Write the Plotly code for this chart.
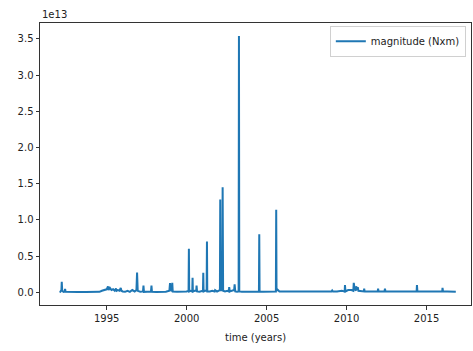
import plotly.graph_objects as go

# Event times (decimal years) and seismic moment magnitudes (N x m)
times = [
    1992.05, 1992.10, 1992.17, 1992.19, 1992.22, 1992.30, 1992.38, 1992.40, 1992.43,
    1992.70, 1993.20, 1993.70, 1994.20, 1994.55, 1994.70, 1994.85, 1995.00, 1995.08,
    1995.12, 1995.20, 1995.30, 1995.40, 1995.50, 1995.58, 1995.62, 1995.70, 1995.80,
    1995.88, 1995.92, 1996.00, 1996.15, 1996.30, 1996.45, 1996.60, 1996.75, 1996.86,
    1996.90, 1996.94, 1997.10, 1997.27, 1997.30, 1997.33, 1997.55, 1997.77, 1997.80,
    1997.83, 1998.10, 1998.40, 1998.70, 1998.92, 1998.96, 1999.00, 1999.08, 1999.10,
    1999.13, 1999.40, 1999.70, 2000.00, 2000.12, 2000.14, 2000.16, 2000.25, 2000.35,
    2000.37, 2000.39, 2000.50, 2000.60, 2000.62, 2000.65, 2000.80, 2000.95, 2001.02,
    2001.04, 2001.06, 2001.15, 2001.25, 2001.27, 2001.29, 2001.45, 2001.60, 2001.75,
    2001.78, 2001.90, 2002.05, 2002.08, 2002.10, 2002.12, 2002.17, 2002.23, 2002.25,
    2002.28, 2002.40, 2002.55, 2002.64, 2002.66, 2002.70, 2002.85, 2002.97, 2003.00,
    2003.04, 2003.15, 2003.25, 2003.27, 2003.29, 2003.45, 2003.70, 2004.00, 2004.30,
    2004.52, 2004.54, 2004.56, 2004.80, 2005.10, 2005.40, 2005.58, 2005.60, 2005.62,
    2005.66, 2005.80, 2006.10, 2006.40, 2006.70, 2007.00, 2007.30, 2007.60, 2007.90,
    2008.20, 2008.50, 2008.80, 2009.05, 2009.10, 2009.15, 2009.40, 2009.70, 2009.88,
    2009.90, 2009.93, 2010.10, 2010.30, 2010.42, 2010.45, 2010.50, 2010.58, 2010.60,
    2010.68, 2010.70, 2010.74, 2010.90, 2011.08, 2011.10, 2011.13, 2011.40, 2011.70,
    2011.95, 2011.97, 2012.00, 2012.20, 2012.37, 2012.40, 2012.43, 2012.70, 2013.00,
    2013.30, 2013.60, 2013.90, 2014.20, 2014.38, 2014.40, 2014.43, 2014.70, 2015.00,
    2015.30, 2015.60, 2015.85, 2015.98, 2016.00, 2016.03, 2016.30, 2016.60, 2016.83,
]

magnitudes = [
    0.02e12, 0.05e12, 0.3e12, 1.45e12, 0.2e12, 0.05e12, 0.1e12, 0.45e12, 0.05e12,
    0.01e12, 0.01e12, 0.01e12, 0.01e12, 0.05e12, 0.2e12, 0.3e12, 0.4e12, 0.8e12,
    0.3e12, 0.6e12, 0.3e12, 0.4e12, 0.2e12, 0.5e12, 0.2e12, 0.3e12, 0.2e12,
    0.6e12, 0.2e12, 0.1e12, 0.05e12, 0.2e12, 0.05e12, 0.3e12, 0.1e12, 0.3e12,
    2.7e12, 0.2e12, 0.05e12, 0.1e12, 0.9e12, 0.05e12, 0.05e12, 0.1e12, 0.9e12,
    0.05e12, 0.02e12, 0.02e12, 0.05e12, 0.2e12, 1.25e12, 0.3e12, 0.2e12, 1.3e12,
    0.1e12, 0.05e12, 0.05e12, 0.1e12, 0.2e12, 6.0e12, 0.1e12, 0.2e12, 0.1e12,
    2.0e12, 0.1e12, 0.2e12, 0.2e12, 0.9e12, 0.1e12, 0.05e12, 0.1e12, 0.2e12,
    2.7e12, 0.1e12, 0.2e12, 0.2e12, 7.0e12, 0.1e12, 0.1e12, 0.2e12, 0.1e12,
    0.3e12, 0.1e12, 0.2e12, 0.3e12, 12.8e12, 0.2e12, 0.3e12, 0.3e12, 14.5e12,
    0.2e12, 0.1e12, 0.2e12, 0.1e12, 0.7e12, 0.1e12, 0.2e12, 0.3e12, 1.1e12,
    0.1e12, 0.05e12, 0.1e12, 35.4e12, 0.1e12, 0.05e12, 0.05e12, 0.1e12, 0.05e12,
    0.1e12, 8.0e12, 0.1e12, 0.05e12, 0.05e12, 0.05e12, 0.1e12, 11.4e12, 0.2e12,
    0.4e12, 0.1e12, 0.1e12, 0.1e12, 0.1e12, 0.1e12, 0.1e12, 0.1e12, 0.1e12,
    0.05e12, 0.05e12, 0.1e12, 0.1e12, 0.25e12, 0.1e12, 0.1e12, 0.2e12, 0.1e12,
    1.0e12, 0.1e12, 0.3e12, 0.3e12, 0.2e12, 1.3e12, 0.5e12, 0.2e12, 0.8e12,
    0.3e12, 0.7e12, 0.2e12, 0.2e12, 0.1e12, 0.5e12, 0.1e12, 0.1e12, 0.1e12,
    0.1e12, 0.5e12, 0.1e12, 0.1e12, 0.1e12, 0.5e12, 0.1e12, 0.1e12, 0.1e12,
    0.1e12, 0.1e12, 0.1e12, 0.1e12, 0.1e12, 1.0e12, 0.1e12, 0.1e12, 0.1e12,
    0.1e12, 0.1e12, 0.1e12, 0.1e12, 0.6e12, 0.1e12, 0.1e12, 0.1e12, 0.05e12,
]

y_ticks = [0.0, 0.5e13, 1.0e13, 1.5e13, 2.0e13, 2.5e13, 3.0e13, 3.5e13]
y_tick_labels = ["0.0", "0.5", "1.0", "1.5", "2.0", "2.5", "3.0", "3.5"]
x_ticks = [1995, 2000, 2005, 2010, 2015]
x_tick_labels = ["1995", "2000", "2005", "2010", "2015"]

series_name = "magnitude (Nxm)"
x_label = "time (years)"
offset_text = "1e13"

fig = go.Figure()
fig.add_trace(go.Scatter(
    x=times, y=magnitudes, mode="lines", name=series_name,
    line=dict(color="#1f77b4", width=2),
))

font = dict(family="DejaVu Sans", size=10, color="#222")
fig.update_layout(
    width=473, height=351,
    margin=dict(l=40, r=2, t=23, b=45.5, pad=0),
    paper_bgcolor="white", plot_bgcolor="white",
    font=font,
    showlegend=True,
    legend=dict(
        x=0.988, y=0.99, xanchor="right", yanchor="top",
        bgcolor="rgba(255,255,255,0.8)", bordercolor="#d0d0d0", borderwidth=1,
        font=dict(family="DejaVu Sans", size=10, color="#222"),
    ),
    xaxis=dict(
        range=[1990.83, 2017.78], tickvals=x_ticks, ticktext=x_tick_labels,
        showgrid=False, zeroline=False, showline=True, mirror=True,
        linecolor="#333", linewidth=1, ticks="outside", ticklen=3.5,
        tickwidth=1, tickcolor="#333",
    ),
    yaxis=dict(
        range=[-0.177e13, 3.72e13], tickvals=y_ticks, ticktext=y_tick_labels,
        showgrid=False, zeroline=False, showline=True, mirror=True,
        linecolor="#333", linewidth=1, ticks="outside", ticklen=3.5,
        tickwidth=1, tickcolor="#333",
    ),
    annotations=[
        dict(text=offset_text, xref="paper", yref="paper", x=0, y=1,
             xanchor="left", yanchor="bottom", showarrow=False, yshift=1,
             font=font),
        dict(text=x_label, xref="paper", yref="paper", x=0.5, y=0,
             xanchor="center", yanchor="top", showarrow=False, yshift=-25,
             font=font),
    ],
)

fig.write_html("out.html")
